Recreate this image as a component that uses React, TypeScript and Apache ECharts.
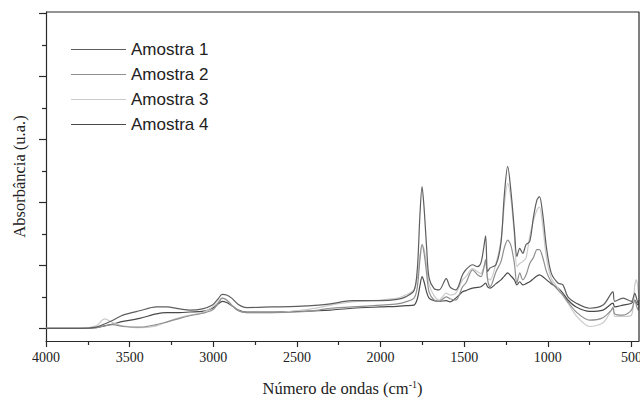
import React, { useEffect, useRef } from "react";
import * as echarts from "echarts";

const wavenumbers = [
  4000, 3800, 3700, 3650, 3600, 3540, 3440, 3340, 3280, 3200,
  3140, 3065, 3005, 2970, 2947, 2920, 2890, 2850, 2800, 2650,
  2500, 2370, 2300, 2170, 2000, 1900, 1850, 1800, 1780, 1765,
  1752, 1740, 1725, 1710, 1680, 1650, 1607, 1585, 1550, 1510,
  1490, 1450, 1420, 1400, 1385, 1372, 1360, 1345, 1310, 1280,
  1260, 1240, 1220, 1200, 1185, 1168, 1150, 1130, 1108, 1085,
  1065, 1050, 1030, 1008, 980, 940, 910, 880, 830, 750,
  670, 620, 610, 600, 550, 500, 480, 470, 460, 455,
];

const amostra1 = [
  0, 0, 0.02, 0.07, 0.13, 0.21, 0.28, 0.34, 0.34, 0.31,
  0.29, 0.31, 0.37, 0.47, 0.54, 0.53, 0.48, 0.38, 0.33, 0.34,
  0.35, 0.37, 0.39, 0.44, 0.44, 0.46, 0.5, 0.6, 0.95, 1.78,
  2.25, 1.92, 1.3, 0.8, 0.63, 0.61, 0.79, 0.66, 0.61, 0.85,
  0.93, 1.01, 0.98, 1.04, 1.25, 1.47, 0.9, 0.96, 1.01, 1.36,
  2.12, 2.57, 2.16, 1.56, 1.14, 1.27, 1.19, 1.33, 1.38, 1.78,
  2.04, 2.09, 1.8, 1.28, 0.88, 0.72, 0.69, 0.5, 0.4, 0.32,
  0.37, 0.56, 0.58, 0.43, 0.48, 0.43, 0.56, 0.48, 0.4, 0.45,
];

const amostra2 = [
  0, 0, 0.01, 0.04, 0.06, 0.03, 0.02, 0.06, 0.1, 0.16,
  0.2, 0.24, 0.29, 0.4, 0.48, 0.45, 0.37, 0.28, 0.25, 0.25,
  0.26, 0.29, 0.32, 0.34, 0.37, 0.39, 0.42, 0.48, 0.66, 1.08,
  1.33, 1.2, 0.88, 0.58, 0.45, 0.43, 0.5, 0.47, 0.45, 0.66,
  0.72, 0.93, 0.85, 0.82, 0.93, 1.09, 0.77, 0.66, 0.9, 1.06,
  1.28, 1.4, 1.31, 1.03, 0.72, 0.88, 0.77, 0.85, 1.03, 1.13,
  1.25, 1.25, 1.12, 0.9, 0.74, 0.61, 0.53, 0.42, 0.26, 0.13,
  0.17, 0.29, 0.33, 0.23, 0.21, 0.29, 0.45, 0.36, 0.29, 0.37,
];

const amostra3 = [
  0, 0, 0.04, 0.15, 0.09, 0.04, 0.01, 0.04, 0.1, 0.17,
  0.21, 0.25, 0.34, 0.42, 0.48, 0.45, 0.37, 0.28, 0.25, 0.25,
  0.28, 0.33, 0.37, 0.42, 0.45, 0.48, 0.53, 0.61, 0.8, 1.15,
  1.33, 1.26, 1.0, 0.7, 0.52, 0.45, 0.56, 0.53, 0.56, 0.77,
  0.82, 0.95, 0.9, 0.87, 0.96, 1.04, 0.8, 0.77, 1.03, 1.4,
  1.96, 2.3, 2.04, 1.48, 0.98, 1.03, 1.06, 1.12, 1.47, 1.72,
  1.88, 1.93, 1.61, 1.12, 0.8, 0.64, 0.52, 0.4, 0.2, 0.03,
  0.09, 0.29, 0.34, 0.19, 0.19, 0.21, 0.69, 0.77, 0.61, 0.45,
];

const amostra4 = [
  0, 0, 0.01, 0.04, 0.07, 0.11, 0.16, 0.23, 0.25, 0.25,
  0.26, 0.27, 0.32, 0.39, 0.43, 0.41, 0.36, 0.29, 0.26, 0.26,
  0.27, 0.28, 0.29, 0.32, 0.34, 0.35, 0.36, 0.37, 0.47, 0.67,
  0.82, 0.74, 0.58, 0.48, 0.44, 0.43, 0.44, 0.42, 0.48, 0.58,
  0.6, 0.64, 0.65, 0.66, 0.69, 0.72, 0.66, 0.64, 0.71, 0.77,
  0.83, 0.88, 0.83, 0.77, 0.69, 0.74, 0.69, 0.71, 0.74, 0.79,
  0.83, 0.85, 0.82, 0.77, 0.71, 0.64, 0.56, 0.45, 0.34, 0.27,
  0.29, 0.39, 0.4, 0.34, 0.37, 0.4, 0.45, 0.4, 0.37, 0.4,
];

const seriesNames = ["Amostra 1", "Amostra 2", "Amostra 3", "Amostra 4"];
const seriesValues = [amostra1, amostra2, amostra3, amostra4];
const seriesColors = ["#5e5e5e", "#8f8f8f", "#cacaca", "#4a4a4a"];

const xMajorTicks = [500, 1000, 1500, 2000, 2500, 3000, 3500, 4000];
const xMinorTicks = [750, 1250, 1750, 2250, 2750, 3250, 3750];
const yMajorTicks = [0, 1, 2, 3, 4, 5];
const yMinorTicks = [0.5, 1.5, 2.5, 3.5, 4.5];

const X_MIN = 455;
const X_MAX = 4000;
const Y_MIN = -0.2;
const Y_MAX = 5.02;

export default function App() {
  const ref = useRef<HTMLDivElement>(null);

  useEffect(() => {
    if (!ref.current) return;
    const chart = echarts.init(ref.current, null, { renderer: "svg" });
    const axisColor = "#2a2a2a";
    const serif = "Liberation Serif";
    const hidden = {
      axisLabel: { show: false },
      splitLine: { show: false },
    };

    const curveSeries = seriesNames.map((name, i) => ({
      name,
      type: "line",
      xAxisIndex: 0,
      yAxisIndex: 0,
      symbol: "none",
      smooth: 0.3,
      color: seriesColors[i],
      lineStyle: { color: seriesColors[i], width: 1.2 },
      data: wavenumbers.map((w, j) => [w, seriesValues[i][j]]),
      z: 4 - i,
    }));

    // top and right edges of the plot frame, placed on the axes' extents
    const frameSeries = {
      name: "frame",
      type: "line",
      xAxisIndex: 0,
      yAxisIndex: 0,
      symbol: "none",
      silent: true,
      clip: false,
      z: 10,
      lineStyle: { color: axisColor, width: 1.2 },
      data: [
        [X_MAX, Y_MAX],
        [X_MIN, Y_MAX],
        [X_MIN, Y_MIN],
      ],
      tooltip: { show: false },
    };

    const option: any = {
      animation: false,
      backgroundColor: "#ffffff",
      grid: {
        left: 46,
        right: 1,
        top: 12,
        bottom: 60,
        containLabel: false,
        outerBoundsMode: "none",
      },
      legend: {
        orient: "vertical",
        left: 66,
        top: 36,
        itemWidth: 55,
        itemHeight: 12,
        itemGap: 8,
        icon: "path://M0,5 L56,5 L56,6 L0,6 Z",
        data: seriesNames,
        textStyle: {
          fontFamily: "Liberation Sans",
          fontSize: 17,
          color: "#222",
        },
      },
      xAxis: [
        {
          type: "value",
          inverse: true,
          min: X_MIN,
          max: X_MAX,
          position: "bottom",
          name: "Número de ondas (cm{sup|-1})",
          nameLocation: "middle",
          nameGap: 38,
          nameTextStyle: {
            fontFamily: serif,
            fontSize: 16.5,
            color: "#222",
            rich: {
              sup: {
                fontFamily: serif,
                fontSize: 10,
                color: "#222",
                verticalAlign: "top",
                padding: [0, 0, 8, 0],
              },
            },
          },
          axisLine: { show: true, onZero: false, lineStyle: { color: axisColor, width: 1.2 } },
          axisTick: {
            show: true,
            inside: false,
            length: 6,
            customValues: xMajorTicks,
            lineStyle: { color: axisColor, width: 1.2 },
          },
          axisLabel: {
            show: true,
            customValues: xMajorTicks,
            formatter: (v: number) => String(v),
            fontFamily: serif,
            fontSize: 14,
            color: "#222",
            margin: 9,
          },
          splitLine: { show: false },
        },
        {
          type: "value",
          inverse: true,
          min: X_MIN,
          max: X_MAX,
          position: "bottom",
          axisLine: { show: false, onZero: false },
          axisTick: {
            show: true,
            inside: false,
            length: 4,
            customValues: xMinorTicks,
            lineStyle: { color: axisColor, width: 1.2 },
          },
          ...hidden,
        },
      ],
      yAxis: [
        {
          type: "value",
          min: Y_MIN,
          max: Y_MAX,
          position: "left",
          name: "Absorbância (u.a.)",
          nameLocation: "middle",
          nameGap: 18,
          nameTextStyle: { fontFamily: serif, fontSize: 16.5, color: "#222" },
          axisLine: { show: true, onZero: false, lineStyle: { color: axisColor, width: 1.2 } },
          axisTick: {
            show: true,
            inside: false,
            length: 7,
            customValues: yMajorTicks,
            lineStyle: { color: axisColor, width: 1.2 },
          },
          ...hidden,
        },
        {
          type: "value",
          min: Y_MIN,
          max: Y_MAX,
          position: "left",
          axisLine: { show: false, onZero: false },
          axisTick: {
            show: true,
            inside: false,
            length: 4,
            customValues: yMinorTicks,
            lineStyle: { color: axisColor, width: 1.2 },
          },
          ...hidden,
        },
      ],
      series: [...curveSeries, frameSeries],
    };

    chart.setOption(option);

    return () => {
      chart.dispose();
    };
  }, []);

  return (
    <div
      ref={ref}
      style={{ position: "fixed", left: 0, top: 0, width: 640, height: 401 }}
    />
  );
}
